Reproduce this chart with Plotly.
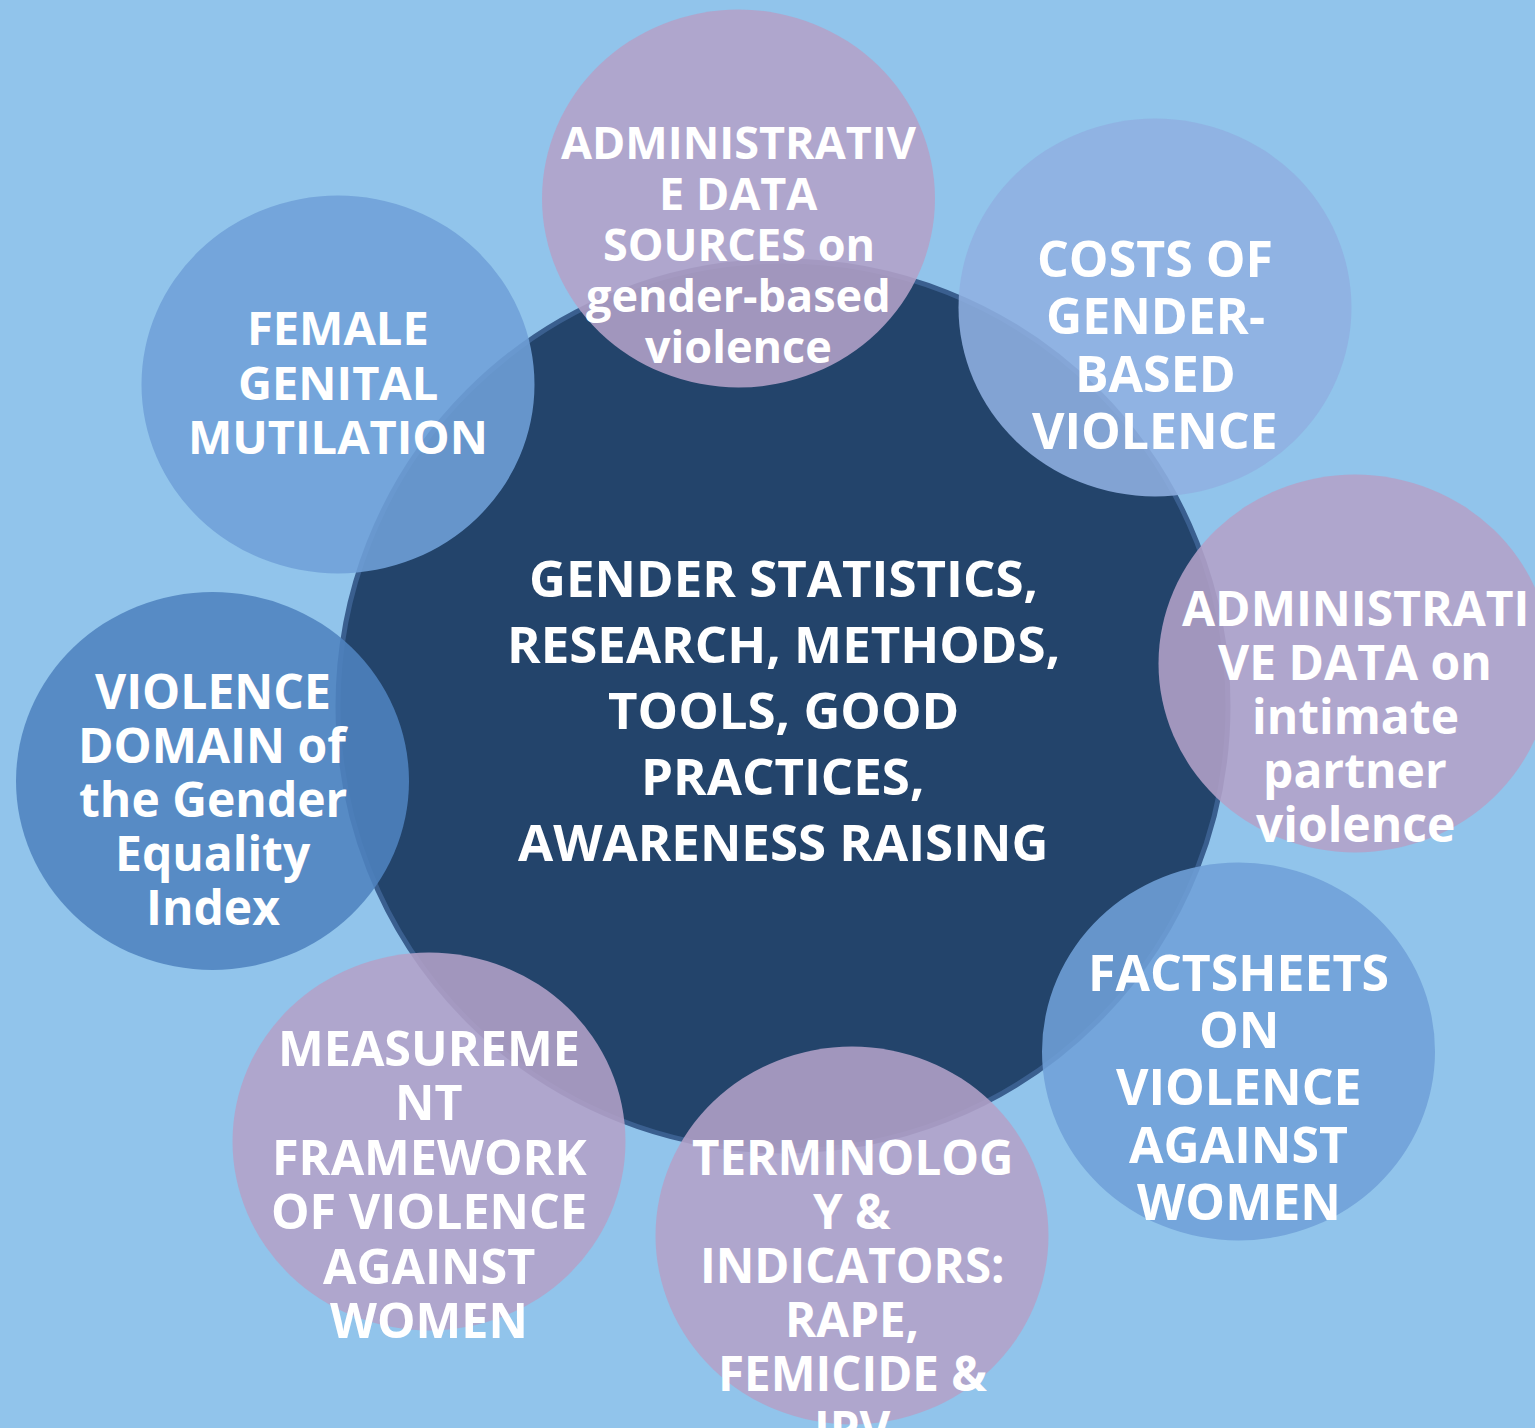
import plotly.graph_objects as go

# ---------------- data ----------------
center_lines = ["GENDER STATISTICS,", "RESEARCH, METHODS,", "TOOLS, GOOD",
                "PRACTICES,", "AWARENESS RAISING"]

topic_lines = [
    ["ADMINISTRATIV", "E DATA", "SOURCES on", "gender-based", "violence"],
    ["COSTS OF", "GENDER-", "BASED", "VIOLENCE"],
    ["ADMINISTRATI", "VE DATA on", "intimate", "partner", "violence"],
    ["FACTSHEETS", "ON", "VIOLENCE", "AGAINST", "WOMEN"],
    ["TERMINOLOG", "Y &", "INDICATORS:", "RAPE,", "FEMICIDE &", "IPV"],
    ["MEASUREME", "NT", "FRAMEWORK", "OF VIOLENCE", "AGAINST", "WOMEN"],
    ["VIOLENCE", "DOMAIN of", "the Gender", "Equality", "Index"],
    ["FEMALE", "GENITAL", "MUTILATION"],
]

# ---------------- layout (pixel coordinates) ----------------
W, H = 1535, 1428
BG = "#91C4EB"
center_xy = (783, 706)
center_r = 445
center_first_y = 577
center_step = 66
center_font = 51

topic_cx = [738.5, 1155, 1355, 1238.5, 852, 429, 212.5, 338]
topic_cy = [198.5, 307.5, 663.5, 1051.5, 1235.5, 1141.5, 781, 384.5]
RX, RY = 196.5, 189
topic_fill = ["rgb(179,162,200)", "rgb(143,176,225)", "rgb(179,162,200)",
              "rgb(112,160,216)", "rgb(179,162,200)", "rgb(179,162,200)",
              "rgb(79,131,191)", "rgb(112,160,216)"]
topic_first_y = [141, 258, 607, 972, 1156, 1047, 690, 327]
topic_step = [51.2, 57.3, 54.2, 57.2, 54.2, 54.4, 54.2, 54.5]
topic_font = [45, 50, 48, 50, 47.5, 48.5, 48, 47]

FONT = "Open Sans"

fig = go.Figure()
fig.add_trace(go.Scatter(x=[0, W], y=[0, H], mode="markers",
                         marker=dict(opacity=0), hoverinfo="skip", showlegend=False))

shapes = []
cx, cy = center_xy
shapes.append(dict(type="circle", xref="x", yref="y",
                   x0=cx - center_r, x1=cx + center_r, y0=cy - center_r, y1=cy + center_r,
                   fillcolor="#23446B", line=dict(color="#3A5F8F", width=5), layer="below"))
for i in range(len(topic_lines)):
    shapes.append(dict(type="circle", xref="x", yref="y",
                       x0=topic_cx[i] - RX, x1=topic_cx[i] + RX,
                       y0=topic_cy[i] - RY, y1=topic_cy[i] + RY,
                       fillcolor=topic_fill[i], opacity=0.88, line=dict(width=0),
                       layer="below"))

annotations = []
for k, line in enumerate(center_lines):
    annotations.append(dict(x=cx, y=center_first_y + k * center_step, xref="x", yref="y",
                            text=line, showarrow=False, xanchor="center", yanchor="middle",
                            font=dict(family=FONT, size=center_font, color="white", weight="bold")))
for i, lines in enumerate(topic_lines):
    for k, line in enumerate(lines):
        annotations.append(dict(x=topic_cx[i], y=topic_first_y[i] + k * topic_step[i],
                                xref="x", yref="y", text=line, showarrow=False,
                                xanchor="center", yanchor="middle",
                                font=dict(family=FONT, size=topic_font[i], color="white",
                                          weight="bold")))

fig.update_layout(
    width=W, height=H, margin=dict(l=0, r=0, t=0, b=0),
    paper_bgcolor=BG, plot_bgcolor=BG,
    xaxis=dict(range=[0, W], visible=False, fixedrange=True),
    yaxis=dict(range=[H, 0], visible=False, fixedrange=True),
    shapes=shapes, annotations=annotations, showlegend=False,
)
fig.write_html("out.html", config={"displayModeBar": False},
               post_script="document.body.style.margin='0';document.body.style.overflow='hidden';")
